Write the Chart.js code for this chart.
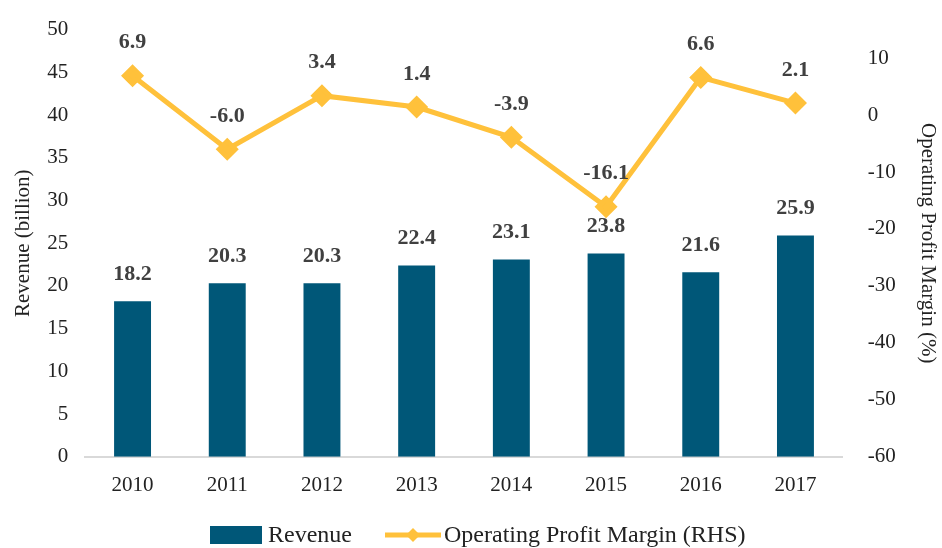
<!DOCTYPE html>
<html>
<head>
<meta charset="utf-8">
<script src="https://cdn.jsdelivr.net/npm/chart.js@4.4.0/dist/chart.umd.min.js"></script>
<style>
  html, body { margin: 0; padding: 0; background: #fff; }
  #wrap { width: 942px; height: 548px; }
</style>
</head>
<body>
<div id="wrap"><canvas id="myChart"></canvas></div>
<script>
const years = ['2010', '2011', '2012', '2013', '2014', '2015', '2016', '2017']
const revenue = [18.2, 20.3, 20.3, 22.4, 23.1, 23.8, 21.6, 25.9]
const margin = [6.9, -6.0, 3.4, 1.4, -3.9, -16.1, 6.6, 2.1]
const rightTicks = [-60, -50, -40, -30, -20, -10, 0, 10]

const barColor = '#005778'
const lineColor = '#FFC13B'
const textColor = '#404040'
const fontFamily = "'Liberation Serif', 'DejaVu Serif', serif"
const fs = 21

const valueLabels = {
    id: 'valueLabels',
    afterDatasetsDraw(chart) {
        const ctx = chart.ctx
        ctx.save()
        ctx.font = 'bold 22px ' + fontFamily
        ctx.fillStyle = textColor
        ctx.textAlign = 'center'
        ctx.textBaseline = 'bottom'
        chart.data.datasets.forEach((ds, i) => {
            const meta = chart.getDatasetMeta(i)
            meta.data.forEach((el, j) => {
                const off = ds.type === 'line' ? 22 : 16
                ctx.fillText(ds.data[j].toFixed(1), el.x, el.y - off)
            })
        })
        ctx.restore()
    }
}

// legend drawn by hand so it sits where the original one is
const bottomLegend = {
    id: 'bottomLegend',
    afterDraw(chart) {
        const ctx = chart.ctx
        const y = chart.height - 13
        const x0 = chart.width / 2 - 261
        ctx.save()
        ctx.fillStyle = barColor
        ctx.fillRect(x0, y - 9, 52, 18)
        ctx.strokeStyle = lineColor
        ctx.lineWidth = 5
        ctx.beginPath(); ctx.moveTo(x0 + 175, y); ctx.lineTo(x0 + 231, y); ctx.stroke()
        ctx.fillStyle = lineColor
        const dx = x0 + 203
        ctx.beginPath(); ctx.moveTo(dx, y - 7); ctx.lineTo(dx + 7, y); ctx.lineTo(dx, y + 7); ctx.lineTo(dx - 7, y); ctx.closePath(); ctx.fill()
        ctx.font = '24px ' + fontFamily
        ctx.fillStyle = '#222'
        ctx.textBaseline = 'middle'
        ctx.textAlign = 'left'
        ctx.fillText('Revenue', x0 + 58, y + 1)
        ctx.fillText('Operating Profit Margin (RHS)', x0 + 234, y + 1)
        ctx.restore()
    }
}

Chart.defaults.font.family = fontFamily
Chart.defaults.color = '#222'

new Chart(document.getElementById('myChart'), {
    type: 'bar',
    data: {
        labels: years,
        datasets: [{
            type: 'line',
            label: 'Operating Profit Margin (RHS)',
            data: margin,
            yAxisID: 'y2',
            borderColor: lineColor,
            backgroundColor: lineColor,
            borderWidth: 5,
            pointStyle: 'rectRot',
            pointRadius: 8,
            pointHoverRadius: 8,
            tension: 0,
            order: 0
        }, {
            label: 'Revenue',
            data: revenue,
            yAxisID: 'y',
            backgroundColor: barColor,
            categoryPercentage: 1,
            barPercentage: 0.39,
            order: 1
        }]
    },
    options: {
        responsive: true,
        maintainAspectRatio: false,
        animation: false,
        layout: { padding: { left: 9, right: 0, top: 17, bottom: 42 } },
        plugins: {
            tooltip: { enabled: false },
            legend: { display: false }
        },
        scales: {
            x: {
                grid: { display: false },
                border: { display: true, color: '#d9d9d9', width: 2 },
                ticks: { font: { size: fs }, padding: 8 }
            },
            y: {
                position: 'left',
                min: 0,
                max: 50,
                grid: { display: false },
                border: { display: false },
                ticks: { stepSize: 5, font: { size: fs }, padding: 9 },
                title: { display: true, text: 'Revenue (billion)', font: { size: fs }, padding: 2 }
            },
            y2: {
                position: 'right',
                min: -60,
                max: 15,
                grid: { display: false },
                border: { display: false },
                afterBuildTicks(axis) {
                    axis.ticks = rightTicks.map(v => ({ value: v }))
                },
                ticks: { font: { size: fs }, padding: 17 },
                title: { display: true, text: 'Operating Profit Margin (%)', font: { size: fs }, padding: 2 }
            }
        }
    },
    plugins: [valueLabels, bottomLegend]
});
</script>
</body>
</html>
